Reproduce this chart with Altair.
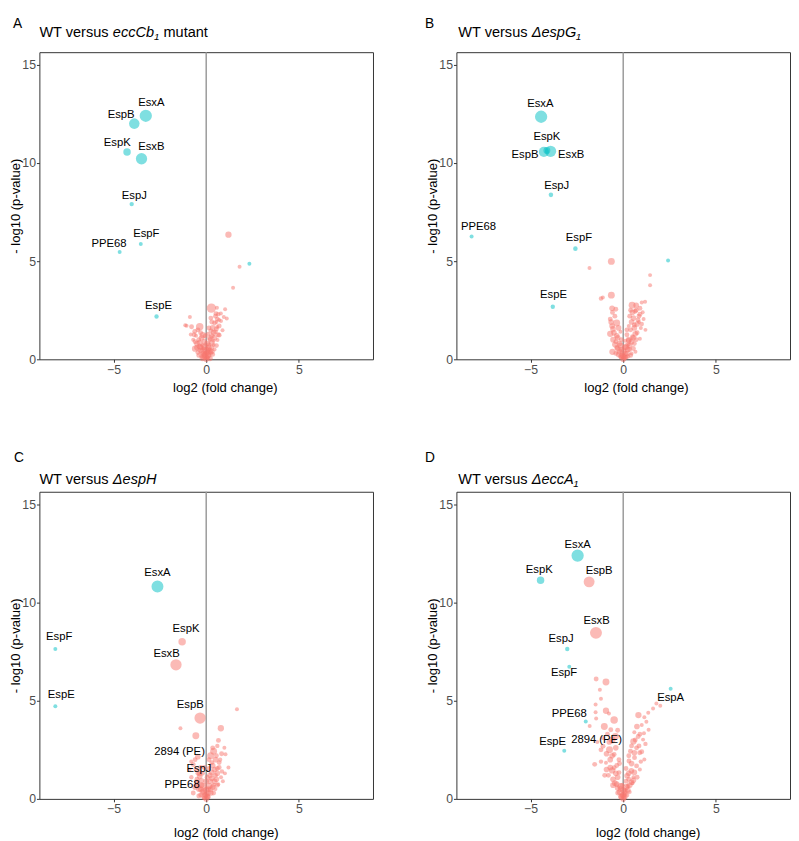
import altair as alt
import pandas as pd

FONT = "Liberation Sans, Arial, Helvetica, sans-serif"

# ---------------- Panel A: WT versus eccCb1 mutant ----------------
A_names = ["EsxA", "EspB", "EspK", "EsxB", "EspJ", "EspF", "PPE68", "EspE"]
A_x = [-3.26, -3.88, -4.27, -3.49, -4.02, -3.53, -4.67, -2.68]
A_y = [12.41, 12.01, 10.56, 10.22, 7.91, 5.88, 5.47, 2.18]
A_s = [9.5, 7.0, 3.5, 8.0, 1.2, 1.0, 1.0, 1.2]
A_g = ["sig"] * 8
A_lx = [-2.96, -4.59, -4.80, -2.96, -3.88, -3.23, -5.24, -2.57]
A_ly = [13.04, 12.46, 11.00, 10.83, 8.34, 6.36, 5.88, 2.72]
A_bx = [2.33, 1.20, 1.80, 1.45, 0.28, 0.58, 1.02, 0.79, 0.53, 1.11, 0.95, 0.60, -0.88, -1.13, -1.06,
        -0.79, -0.35, -0.62, -0.83, -0.18, -0.60, 0.88, 0.70, 0.61, 0.40, 0.45, 0.35, 0.50, 0.30, 0.60,
        0.20, -0.10, -0.40, -0.50, -0.30, -0.20, 0.10, 0.25, -0.10, 0.05, -0.05, 0.15, -0.25, 0.00, 0.30,
        -0.45, 0.15, -0.20, 0.40, 0.10, 0.25, 0.55, 0.70, -0.70, -0.55, 0.10, -0.15, 0.45,
        -0.05, 0.08, -0.15, 0.20, -0.30, 0.35, -0.40, 0.12, -0.08, 0.30, -0.35, 0.45, -0.25, 0.05, 0.20,
        -0.50, 0.55, 0.00, -0.20, 0.20, 0.00, -0.60, 0.65, 0.40, 0.15, -0.05, 0.55, 0.70, 0.30, 0.50,
        0.80, -0.45, -0.65, -0.30, 0.25, 0.65, -0.12, 0.10, 0.30, -0.35]
A_by = [4.87, 6.35, 4.72, 3.65, 2.61, 2.63, 2.55, 2.33, 2.33, 2.08, 2.16, 2.05, 2.16, 1.74, 1.71,
        1.66, 1.66, 1.42, 1.27, 1.23, 0.54, 1.48, 1.23, 0.98, 0.73, 1.85, 1.60, 1.40, 1.20, 1.65,
        1.00, 0.90, 1.00, 0.80, 0.60, 0.40, 0.50, 0.35, 0.20, 0.10, 0.05, 0.20, 0.15, 0.30, 0.60,
        0.35, 0.75, 0.70, 0.95, 1.30, 1.45, 1.90, 2.00, 1.00, 1.20, 0.05, 0.55, 0.50,
        0.25, 0.35, 0.30, 0.45, 0.45, 0.25, 0.20, 0.60, 0.65, 0.85, 0.85, 1.10, 1.10, 0.80, 1.10,
        0.60, 0.70, 0.45, 0.05, 0.05, 0.00, 0.90, 1.25, 1.35, 1.60, 1.20, 1.55, 1.70, 1.90, 2.20,
        1.95, 1.50, 1.25, 1.35, 2.10, 2.30, 0.12, 0.20, 0.40, 0.65]
A_bs = [1.0, 2.5, 1.0, 1.0, 5.5, 1.0, 1.0, 1.0, 1.5, 1.0, 1.0, 1.5, 1.0, 1.0, 1.0,
        1.5, 3.5, 1.5, 1.0, 2.5, 2.5, 1.0, 1.5, 1.0, 1.0, 1.5, 2.0, 1.5, 2.0, 1.0,
        1.5, 2.0, 1.5, 2.0, 2.0, 2.5, 2.0, 1.5, 2.0, 1.5, 1.0, 1.5, 1.5, 2.0, 1.5,
        1.5, 1.5, 1.5, 1.0, 1.0, 1.5, 1.0, 1.0, 1.0, 1.0, 1.0, 1.0, 1.0,
        2.0, 2.0, 2.0, 2.0, 2.0, 1.5, 1.5, 2.5, 2.5, 2.0, 2.0, 2.0, 2.0, 2.0, 2.0,
        2.0, 1.5, 3.0, 2.0, 2.0, 2.0, 1.5, 1.5, 2.0, 1.5, 1.5, 1.5, 1.5, 1.5, 1.5,
        1.0, 1.5, 1.5, 1.5, 1.5, 1.2, 2.0, 2.0, 2.0, 2.0]
A_bg = ["sig"] + ["ns"] * (len(A_bx) - 1)

# ---------------- Panel B: WT versus ΔespG1 ----------------
B_names = ["EsxA", "EspB", "EsxB", "EspK", "EspJ", "PPE68", "EspF", "EspE"]
B_x = [-4.43, -4.28, -3.92, -4.12, -3.90, -8.18, -2.58, -3.80]
B_y = [12.36, 10.57, 10.60, 10.64, 8.38, 6.26, 5.64, 2.68]
B_s = [9.5, 6.5, 8.0, 3.0, 1.3, 1.0, 1.3, 1.2]
B_g = ["sig"] * 8
B_lx = [-4.47, -5.30, -2.81, -4.12, -3.59, -7.81, -2.39, -3.76]
B_ly = [13.00, 10.39, 10.39, 11.31, 8.84, 6.75, 6.16, 3.27]
B_bx = [2.42, -0.64, -1.82, 1.45, 1.45, -0.64, -1.20, -1.10, 1.18, 0.48, 0.70, 0.90, 0.40, 0.65, 1.05,
        0.85, 1.10, 0.55, -0.58, -0.45, -0.70, -0.35, -0.60, -0.50, -0.70, 0.85, 0.60, 0.95, 0.40, 0.75,
        0.50, 0.90, 0.30, 0.60, -0.58, 0.66, -0.30, -0.20, -0.40, 0.10, -0.10, 0.20, -0.25, 0.00, 0.05,
        -0.10, 0.15, 0.35, 0.25, -0.35, 0.45, 0.20, 0.30, -0.15, 0.10, 1.20, 1.00,
        -0.05, 0.10, -0.20, 0.25, -0.30, 0.35, -0.45, 0.45, -0.55, 0.55, 0.00, 0.15, -0.15, 0.30, -0.35,
        0.65, 0.00, 0.08, -0.12, 0.60, 0.75, 0.45, 0.90, 0.35, 0.70, -0.25, -0.55, -0.65, -0.40, -0.60,
        0.50, 0.80, 1.00, 0.20, -0.10, 0.40, 0.25, -0.40, 0.55, 0.70]
B_by = [5.03, 4.99, 4.65, 4.29, 3.77, 3.27, 3.10, 3.15, 2.93, 2.76, 2.75, 2.60, 2.50, 2.45, 2.40,
        2.20, 2.05, 2.10, 2.39, 2.20, 2.05, 1.85, 1.70, 1.35, 1.30, 1.90, 1.75, 1.60, 1.50, 1.35,
        1.15, 1.05, 0.95, 0.80, 0.38, 0.38, 1.10, 0.80, 0.90, 0.60, 0.50, 0.30, 0.25, 0.15, 0.05,
        0.10, 0.10, 0.50, 0.75, 0.60, 0.30, 1.25, 1.70, 1.40, 0.95, 1.50, 2.90,
        0.20, 0.30, 0.40, 0.50, 0.55, 0.70, 0.75, 0.90, 1.00, 1.10, 0.40, 0.65, 0.70, 1.00, 1.20,
        1.30, 0.00, 0.10, 0.15, 1.60, 1.80, 1.90, 2.30, 2.20, 2.50, 1.60, 1.55, 1.90, 2.55, 2.60,
        2.40, 2.00, 1.80, 1.50, 1.00, 0.20, 0.15, 0.30, 0.55, 1.00]
B_bs = [1.0, 3.0, 1.0, 1.0, 1.0, 3.0, 1.2, 1.0, 1.0, 3.0, 2.0, 1.5, 1.5, 1.5, 1.0,
        1.5, 1.0, 2.0, 1.5, 1.5, 1.5, 3.0, 2.0, 2.0, 2.5, 1.0, 1.5, 1.0, 1.5, 1.5,
        1.5, 1.0, 2.0, 1.5, 2.5, 1.0, 2.0, 2.0, 1.5, 2.0, 2.0, 2.0, 2.0, 2.0, 1.5,
        1.5, 1.5, 1.5, 1.5, 1.5, 1.0, 1.5, 1.0, 1.0, 1.0, 1.0, 1.0,
        2.0, 2.0, 2.0, 2.0, 2.0, 2.0, 2.0, 2.0, 2.0, 2.0, 2.5, 2.5, 2.5, 2.0, 2.0,
        2.0, 2.0, 2.0, 2.0, 2.0, 2.0, 2.0, 1.5, 1.5, 1.5, 2.0, 2.0, 2.0, 1.5, 2.0,
        2.0, 1.5, 1.2, 1.5, 1.5, 1.5, 1.5, 1.5, 1.5, 1.5]
B_bg = ["sig"] + ["ns"] * (len(B_bx) - 1)

# ---------------- Panel C: WT versus ΔespH ----------------
C_names = ["EsxA", "EspF", "EspE", "EspK", "EsxB", "EspB", "2894 (PE)", "EspJ", "PPE68"]
C_x = [-2.63, -8.14, -8.14, -1.30, -1.63, -0.33, -0.45, -0.35, -0.25]
C_y = [10.82, 7.64, 4.72, 8.01, 6.83, 4.12, 2.15, 1.30, 0.70]
C_s = [9.0, 1.0, 1.0, 3.5, 8.0, 8.0, 2.0, 2.0, 2.0]
C_g = ["sig", "sig", "sig", "ns", "ns", "ns", "ns", "ns", "ns"]
C_lx = [-2.63, -7.93, -7.82, -1.09, -2.14, -0.86, -1.44, -0.39, -1.30]
C_ly = [11.51, 8.24, 5.31, 8.66, 7.40, 4.76, 2.38, 1.51, 0.72]
C_bx = [1.66, -1.39, 0.79, -0.56, 0.66, 0.98, 0.40, 0.83, 0.24, 1.04, -0.81, -0.70, 0.50, 0.70, 0.35,
        0.60, 1.01, 0.80, 0.30, 0.50, -0.26, -0.50, -0.60, -0.40, 0.20, 0.40, 0.10, -0.15, 0.25, 0.00,
        -0.10, 0.10, -0.30, 0.50, -0.70, 0.65, -0.45, 1.20, -0.90, 0.15, 0.05,
        -0.05, 0.10, -0.20, 0.25, -0.30, 0.35, -0.45, 0.45, -0.50, 0.55, 0.00, 0.15, -0.15, 0.30, -0.35,
        0.60, 0.00, 0.08, -0.12, 0.45, 0.70, 0.30, 0.55, 0.15, -0.55, -0.30, -0.60, 0.20, 0.00, -0.20,
        0.40, -0.40, 0.60, 0.85, 0.75, 0.90, -0.80, 0.35, 0.60, -0.10]
C_by = [4.57, 3.60, 3.60, 3.22, 2.98, 2.60, 2.43, 2.30, 2.20, 2.27, 1.90, 1.75, 2.00, 1.85, 1.70,
        1.55, 1.30, 1.10, 1.35, 1.20, 0.92, 1.00, 0.60, 0.50, 0.90, 0.70, 0.50, 0.40, 0.30, 0.20,
        0.05, 0.10, 0.20, 0.50, 0.30, 0.75, 1.30, 1.60, 1.50, 1.55, 1.10,
        0.20, 0.30, 0.35, 0.50, 0.50, 0.60, 0.70, 0.90, 0.85, 1.00, 0.45, 0.65, 0.65, 1.05, 1.15,
        1.30, 0.00, 0.10, 0.12, 1.50, 1.60, 1.85, 2.20, 2.00, 1.50, 1.60, 2.00, 1.20, 0.90, 1.30,
        0.30, 0.15, 0.70, 1.40, 2.00, 0.90, 1.10, 2.60, 2.70, 1.60]
C_bs = [1.0, 1.0, 2.5, 3.0, 1.5, 1.0, 3.0, 1.5, 3.0, 1.0, 1.0, 1.5, 2.0, 1.5, 2.0,
        1.5, 1.0, 1.0, 2.0, 1.5, 2.0, 1.5, 2.0, 2.0, 2.0, 1.5, 2.0, 2.0, 2.0, 2.0,
        1.5, 1.5, 1.5, 1.0, 1.5, 1.0, 1.5, 1.0, 1.0, 1.5, 1.5,
        2.0, 2.0, 2.0, 2.0, 2.0, 2.0, 2.0, 2.0, 2.0, 2.0, 2.5, 2.5, 2.5, 2.0, 2.0,
        2.0, 2.0, 2.0, 2.0, 2.0, 1.5, 1.5, 1.5, 1.5, 1.5, 1.5, 1.5, 2.0, 2.0, 1.5,
        1.5, 1.5, 1.5, 1.2, 1.2, 1.0, 1.2, 1.5, 1.2, 1.5]
C_bg = ["ns"] * len(C_bx)

# ---------------- Panel D: WT versus ΔeccA1 ----------------
D_names = ["EsxA", "EspK", "EspB", "EsxB", "EspJ", "EspF", "EspA", "PPE68", "EspE", "2894 (PE)"]
D_x = [-2.46, -4.46, -1.84, -1.47, -3.02, -2.91, 2.56, -2.02, -3.18, -0.60]
D_y = [12.40, 11.14, 11.06, 8.46, 7.64, 6.73, 5.61, 3.94, 2.45, 3.00]
D_s = [9.5, 3.5, 7.5, 9.0, 1.2, 1.0, 1.0, 1.0, 1.0, 3.0]
D_g = ["sig", "sig", "ns", "ns", "sig", "sig", "sig", "sig", "sig", "ns"]
D_lx = [-2.46, -4.53, -1.30, -1.44, -3.35, -3.19, 2.56, -2.91, -3.81, -1.44]
D_ly = [12.96, 11.68, 11.59, 9.05, 8.17, 6.42, 5.14, 4.32, 2.90, 2.98]
D_bx = [-1.46, -0.93, -1.26, -1.20, -1.49, -1.49, -0.93, -0.77, -0.49, -1.46, -1.81, -1.02, -0.67, -0.85, -0.42,
        -1.09, -1.20, -0.74, -0.49, -0.23, -0.93, -1.54, -0.49, -0.23, -0.60, -0.30, -0.55, -0.80, -0.35, -0.15,
        0.10, 0.00, -0.10, 0.05, 0.20, -0.30, 0.25, 0.15, 0.30, -0.05, 2.00, 1.79, 1.61, 1.35, 1.14,
        0.82, 1.25, 1.00, 0.74, 1.37, 1.12, 0.81, 1.07, 0.55, 0.72, 0.39, 0.89, 0.61, 1.14, 0.31,
        0.72, 0.44, 0.21, 0.55, 0.90, 0.45, 0.60, -1.40, -1.10, -0.70, -0.35, 0.35, 0.50,
        -0.05, 0.10, -0.20, 0.25, -0.30, 0.35, -0.45, 0.45, -0.55, 0.55, 0.00, 0.15, -0.15, 0.30, -0.40,
        0.60, 0.00, 0.08, -0.12, -0.70, -0.90, -0.60, -0.90, -0.40, -0.75, -0.30, 0.45, 0.60, 0.85, 0.30,
        1.00, 0.90, 0.65, 1.20, -1.20, -1.00, 0.75, 0.95, -0.20, 0.15]
D_by = [6.11, 5.96, 5.56, 5.10, 4.81, 4.42, 4.49, 4.35, 4.02, 4.10, 3.72, 3.69, 3.52, 3.30, 3.18,
        2.68, 2.50, 2.51, 2.26, 2.00, 1.84, 1.76, 1.59, 1.34, 1.45, 1.10, 1.00, 1.20, 0.75, 0.50,
        0.40, 0.20, 0.10, 0.05, 0.20, 0.30, 0.65, 0.90, 1.00, 0.70, 4.74, 4.86, 4.61, 4.39, 4.16,
        4.27, 3.93, 3.77, 3.69, 3.52, 3.35, 3.18, 3.02, 2.93, 2.60, 2.43, 2.35, 2.10, 2.01, 1.93,
        1.68, 1.43, 1.18, 1.10, 1.50, 2.70, 3.40, 2.90, 3.10, 2.00, 1.70, 0.35, 0.80,
        0.20, 0.30, 0.35, 0.45, 0.55, 0.70, 0.80, 0.85, 0.70, 0.95, 0.45, 0.60, 0.65, 1.30, 1.30,
        1.35, 0.00, 0.10, 0.12, 1.60, 1.50, 2.20, 2.30, 2.60, 2.90, 3.50, 1.80, 2.35, 2.70, 2.20,
        2.40, 3.30, 3.00, 2.80, 1.90, 1.20, 1.10, 1.90, 1.80, 1.55]
D_bs = [1.5, 3.0, 1.0, 1.0, 1.0, 1.0, 2.5, 1.0, 3.5, 1.0, 1.0, 3.0, 1.5, 1.5, 3.0,
        1.5, 1.5, 3.0, 1.5, 1.5, 1.0, 1.5, 1.5, 1.5, 2.5, 2.0, 2.0, 1.5, 2.0, 2.0,
        2.0, 2.0, 2.0, 1.5, 1.5, 1.5, 1.5, 1.5, 1.5, 1.5, 1.0, 1.0, 1.0, 1.0, 1.0,
        2.5, 1.0, 1.0, 2.0, 1.0, 1.0, 1.5, 1.0, 2.5, 1.5, 1.5, 1.5, 1.5, 1.0, 1.5,
        1.5, 2.0, 2.0, 1.0, 1.0, 1.5, 1.0, 1.0, 1.0, 2.0, 1.5, 1.0, 1.0,
        2.0, 2.0, 2.0, 2.0, 2.0, 2.0, 2.0, 2.0, 2.0, 2.0, 2.5, 2.5, 2.5, 2.0, 2.0,
        2.0, 2.0, 2.0, 2.0, 2.0, 2.0, 2.0, 2.0, 2.0, 2.0, 1.5, 2.0, 2.0, 1.5, 1.5,
        1.5, 1.5, 1.5, 1.2, 1.2, 1.5, 1.5, 1.2, 1.5, 1.5]
D_bg = ["ns"] * len(D_bx)

# ---------------- titles ----------------
A_title = [("WT versus ", "n"), ("eccCb", "i"), ("1", "sub"), (" mutant", "n")]
B_title = [("WT versus ", "n"), ("\u0394espG", "i"), ("1", "sub")]
C_title = [("WT versus ", "n"), ("\u0394espH", "i")]
D_title = [("WT versus ", "n"), ("\u0394eccA", "i"), ("1", "sub")]

X_TICKS = [-5, 0, 5]
Y_TICKS = [0, 5, 10, 15]
X_DOMAIN = [-9, 9]
Y_DOMAIN = [0, 15.65]

W, H = 340, 313
TITLE_FS = 14.8
SUB_FS = 10

ARIAL = {'W': 944, 'T': 611, ' ': 278, 'v': 500, 'e': 556, 'r': 333, 's': 500, 'u': 556,
         'c': 500, 'C': 722, 'b': 556, '1': 556, 'm': 833, 't': 278, 'a': 556, 'n': 556,
         '\u0394': 640, 'p': 556, 'G': 778, 'H': 722, 'A': 667}


def text_width(s, fs):
    return sum(ARIAL.get(ch, 556) for ch in s) * fs / 1000.0


def txt(s, x, y, fs, italic=False, align="left", baseline="middle", color="black"):
    return alt.Chart(pd.DataFrame({"t": [s]})).mark_text(
        align=align, baseline=baseline, font=FONT, fontSize=fs,
        fontStyle="italic" if italic else "normal", color=color
    ).encode(x=alt.value(x), y=alt.value(y), text="t:N")


def panel(letter, letter_xy, title, title_xy, names, xs, ys, ss, gs, lxs, lys,
          bxs, bys, bss, bgs, xtitle_xy):
    pts = pd.DataFrame({"x": bxs + xs, "y": bys + ys, "s": bss + ss, "g": bgs + gs})
    labs = pd.DataFrame({"name": names, "lx": lxs, "ly": lys})
    xs_ = alt.Scale(domain=X_DOMAIN, nice=False, zero=False)
    ys_ = alt.Scale(domain=Y_DOMAIN, nice=False, zero=False)
    xax = alt.Axis(values=X_TICKS, title="log2 (fold change)", titleX=xtitle_xy[0],
                   titleY=xtitle_xy[1], titleBaseline="middle", titleAlign="center")
    yax = alt.Axis(values=Y_TICKS, title="- log10 (p-value)", titleX=-24, titleY=H / 2,
                   titleBaseline="middle", titleAlign="center", titleAngle=-90)

    def X(f):
        return alt.X(f, type="quantitative", scale=xs_, axis=xax)

    def Y(f):
        return alt.Y(f, type="quantitative", scale=ys_, axis=yax)

    rule = alt.Chart(pd.DataFrame({"v": [0]})).mark_rule(
        color="#9a9a9a", strokeWidth=1.5).encode(x=X("v"))
    circ = alt.Chart(pts).mark_circle(opacity=0.5).encode(
        x=X("x"), y=Y("y"),
        size=alt.Size("s:Q", scale=alt.Scale(domain=[0, 10], range=[0, 165]), legend=None),
        color=alt.Color("g:N", scale=alt.Scale(domain=["ns", "sig"],
                                               range=["#F8766D", "#00BFC4"]), legend=None),
    )
    lab = alt.Chart(labs).mark_text(font=FONT, fontSize=11.5, color="black",
                                    align="center", baseline="middle").encode(
        x=X("lx"), y=Y("ly"), text="name:N")
    layers = [rule, circ, lab]
    # title pieces (leading spaces are advanced, not drawn)
    cx, ty = title_xy
    for s, style in title:
        fs = SUB_FS if style == "sub" else TITLE_FS
        lead = len(s) - len(s.lstrip(" "))
        cx += text_width(" " * lead, fs)
        body = s.strip(" ")
        if style == "sub":
            layers.append(txt(body, cx, ty + 4, fs, italic=True))
        else:
            layers.append(txt(body, cx, ty, fs, italic=(style == "i")))
        cx += text_width(s.lstrip(" "), fs)
    layers.append(txt(letter, letter_xy[0], letter_xy[1], 14))
    return alt.layer(*layers).properties(width=W, height=H)


pA = panel("A", (-27, -29), A_title, (0, -19), A_names, A_x, A_y, A_s, A_g, A_lx, A_ly,
           A_bx, A_by, A_bs, A_bg, (189, 29))
pB = panel("B", (-32, -29), B_title, (2, -19), B_names, B_x, B_y, B_s, B_g, B_lx, B_ly,
           B_bx, B_by, B_bs, B_bg, (183, 29))
pC = panel("C", (-26, -34), C_title, (0, -12), C_names, C_x, C_y, C_s, C_g, C_lx, C_ly,
           C_bx, C_by, C_bs, C_bg, (190, 34))
pD = panel("D", (-32, -34), D_title, (2, -12), D_names, D_x, D_y, D_s, D_g, D_lx, D_ly,
           D_bx, D_by, D_bs, D_bg, (195, 34))

row1 = alt.hconcat(pA, pB, spacing=51)
row2 = alt.hconcat(pC, pD, spacing=51)
chart = alt.vconcat(row1, row2, spacing=57,
                    padding={"left": 0, "top": 0, "right": 0, "bottom": 0}).configure_view(
    stroke="#333333", strokeWidth=1
).configure_axis(
    domain=False, grid=False, ticks=True, tickColor="#333333", tickSize=3,
    labelFont=FONT, labelFontSize=12.5, labelColor="#4d4d4d", labelPadding=1,
    titleFont=FONT, titleFontSize=13.3, titleFontWeight="normal", titleColor="black"
)

chart.save("out.html", embed_options={"renderer": "svg", "actions": False})
